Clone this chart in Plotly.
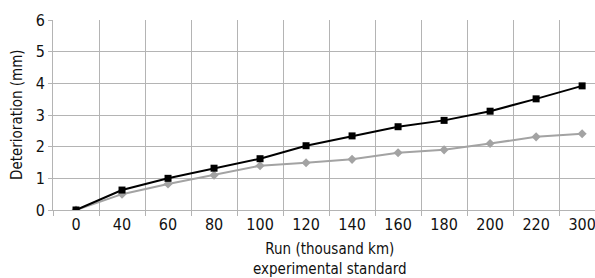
import plotly.graph_objects as go

categories = ["0", "40", "60", "80", "100", "120", "140", "160", "180", "200", "220", "300"]
experimental = [0.0, 0.63, 1.0, 1.32, 1.62, 2.03, 2.34, 2.63, 2.83, 3.12, 3.51, 3.92]
standard = [0.0, 0.5, 0.82, 1.1, 1.4, 1.49, 1.6, 1.81, 1.9, 2.1, 2.31, 2.41]
y_ticks = [0, 1, 2, 3, 4, 5, 6]

FONT = "DejaVu Sans Condensed, Liberation Sans Narrow, Liberation Sans, Arial, sans-serif"
GRID = "#b4b4b4"

fig = go.Figure()
fig.add_trace(go.Scatter(
    x=categories, y=standard, mode="lines+markers", name="standard",
    line=dict(color="#a3a3a3", width=2),
    marker=dict(symbol="diamond", size=7, color="#a3a3a3"),
))
fig.add_trace(go.Scatter(
    x=categories, y=experimental, mode="lines+markers", name="experimental",
    line=dict(color="#000000", width=2),
    marker=dict(symbol="square", size=7, color="#000000"),
))

fig.update_layout(
    width=595, height=278,
    margin=dict(l=53, r=0, t=20, b=68, autoexpand=False),
    paper_bgcolor="white", plot_bgcolor="white",
    showlegend=False,
    font=dict(family=FONT, size=16, color="#111111"),
    xaxis=dict(
        type="category", range=[-0.5, 11.28],
        tickson="boundaries", showgrid=True, gridcolor=GRID, gridwidth=1,
        ticks="outside", ticklen=5, tickcolor=GRID,
        showline=True, linecolor=GRID, linewidth=1,
        tickfont=dict(size=16), zeroline=False, automargin=False,
    ),
    yaxis=dict(
        range=[0, 6], tickvals=y_ticks,
        showgrid=True, gridcolor=GRID, gridwidth=1,
        ticks="outside", ticklen=4, tickcolor=GRID,
        showline=True, linecolor=GRID, linewidth=1,
        tickfont=dict(size=16), zeroline=False, automargin=False,
    ),
    annotations=[
        dict(text="Run (thousand km)<br>experimental standard",
             xref="paper", yref="paper", x=(330 - 53) / 542, y=0,
             yshift=-28, xanchor="center", yanchor="top",
             showarrow=False, font=dict(size=15)),
        dict(text="Deterioration (mm)", textangle=-90,
             xref="paper", yref="paper", x=0, y=0.5,
             xshift=-36, xanchor="center", yanchor="middle",
             showarrow=False, font=dict(size=15)),
    ],
)

fig.write_html("out.html", config={"displayModeBar": False},
               post_script="document.body.style.margin='0';document.body.style.padding='0';")
